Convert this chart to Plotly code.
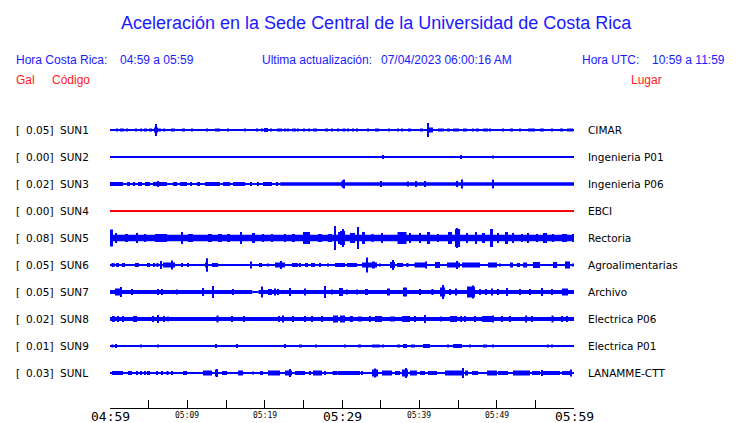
import plotly.graph_objects as go

# ---------------- data ----------------
STATIONS = ["SUN1", "SUN2", "SUN3", "SUN4", "SUN5", "SUN6", "SUN7", "SUN8", "SUN9", "SUNL"]
GAL = ["0.05", "0.00", "0.02", "0.00", "0.08", "0.05", "0.05", "0.02", "0.01", "0.03"]
PLACES = ["CIMAR", "Ingenieria P01", "Ingenieria P06", "EBCI", "Rectoria",
          "Agroalimentarias", "Archivo", "Electrica P06", "Electrica P01", "LANAMME-CTT"]
COLORS = ["#0000ff", "#0000ff", "#0000ff", "#ff0000", "#0000ff",
          "#0000ff", "#0000ff", "#0000ff", "#0000ff", "#0000ff"]

TICK_MIN = [0, 10, 20, 30, 40, 50, 60]
TICK_LABELS = ["04:59", "05:09", "05:19", "05:29", "05:39", "05:49", "05:59"]
TICK_BIG = [True, False, False, True, False, False, True]

# background noise level: (start minute, relative half amplitude)
NOISE = {
    "SUN1": [(0, 0.6)],
    "SUN2": [(0, 0.5)],
    "SUN3": [(0, 0.6), (22.0, 1.8)],
    "SUN4": [(0, 0.5)],
    "SUN5": [(0, 3.2)],
    "SUN6": [(0, 0.6)],
    "SUN7": [(0, 2.1), (18.4, 0.9), (19.2, 2.1)],
    "SUN8": [(0, 2.0)],
    "SUN9": [(0, 0.6)],
    "SUNL": [(0, 0.6)],
}

# bursts: (minute after 04:59, duration in minutes, relative half amplitude)
SUN1 = [(0.87,0.15,1.5),(1.55,0.52,1.5),(2.20,0.15,1.5),(3.36,0.15,1.5),(4.01,0.15,1.5),
        (4.59,0.39,1.5),(5.24,0.39,1.5),(5.91,0.15,6),(5.95,0.52,2.5),(6.40,0.39,1.5),
        (6.98,0.15,1.5),(8.02,0.15,1.5),(8.28,0.15,1.5),(9.50,0.39,1.5),(10.60,0.15,1.5),
        (12.54,0.15,1.5),(13.90,0.65,1.5),(15.26,0.15,1.5),(17.46,0.15,1.5),(19.01,0.15,1.5),
        (19.66,0.15,1.5),(20.17,0.52,2),(20.82,0.15,1.5),(21.92,0.65,1.5),(22.63,0.15,1.5),
        (23.02,0.15,1.5),(23.79,0.52,1.5),(24.31,0.15,1.5),(25.09,0.15,1.5),(25.73,0.15,1.5),
        (26.51,0.52,1.5),(28.00,0.39,1.5),(28.71,0.15,1.5),(29.48,0.15,1.5),(30.26,0.39,1.5),
        (30.78,0.15,1.5),(31.42,0.15,1.5),(31.94,0.15,1.5),(33.36,0.15,1.5),(34.53,0.52,1.5),
        (36.08,0.26,1.5),(37.24,0.15,1.5),(37.76,0.15,1.5),(38.73,0.39,1.5),(40.28,0.39,1.5),
        (41.12,0.15,7),(41.38,0.78,2.5),(42.80,0.78,1.5),(43.77,0.39,1.5),(44.74,0.78,1.5),
        (45.91,0.52,1.5),(46.94,0.15,1.5),(47.52,0.39,1.5),(48.56,0.65,1.5),(49.14,0.15,1.5),
        (50.82,0.15,1.5),(51.92,0.39,1.5),(53.02,0.15,1.5),(54.51,0.91,1.5),(55.87,0.52,1.5),
        (57.16,0.15,1.5),(58.39,0.39,1.5),(59.49,0.78,1.5)]

SUN2 = [(35.34,0.15,2),(45.43,0.15,2),(49.53,0.15,1.5)]

SUN3 = [(0.84,1.68,2),(2.39,0.39,2),(3.10,0.15,2),(3.88,0.52,2),(4.85,0.65,2),
        (6.47,1.81,2),(6.25,0.15,3),(8.41,0.52,2),(9.50,0.91,2),(10.47,0.15,2),
        (11.44,0.39,2),(13.25,1.94,2),(15.07,0.91,2),(16.68,1.55,2),(18.23,0.15,2),
        (19.14,0.15,2),(20.37,1.16,2),(21.60,0.26,2),(30.13,0.39,3.5),(30.26,0.15,4.5),
        (35.00,0.15,3),(38.50,0.15,2.5),(39.53,0.15,3),(40.73,0.15,3),(44.87,0.15,3),
        (45.48,0.15,4.5),(49.57,0.15,4.5)]

SUN4 = []

SUN5 = [(0.19,0.39,8.5),(0.78,0.15,5),(2.13,0.39,4),(3.49,0.15,5),(4.53,0.15,4),
        (6.60,1.55,4),(9.31,0.26,6),(10.41,0.65,4),(12.93,0.52,4),(14.22,0.52,4),
        (15.32,0.39,4),(16.94,0.26,6),(18.56,0.39,5),(19.79,0.15,4),(20.95,0.15,4),
        (22.63,0.15,4),(23.73,0.39,4),(25.41,0.91,6),(27.16,0.52,4),(28.45,0.52,4),
        (29.10,0.15,12),(29.74,0.52,6),(30.13,0.15,9),(30.07,0.65,7),(31.36,0.65,5),
        (32.07,0.15,11),(32.78,0.39,6),(33.95,0.26,4),(35.17,0.15,5),(37.76,1.16,6),
        (38.80,0.15,5),(40.09,0.15,5),(41.19,0.39,6),(42.41,0.15,4),(43.97,0.52,6),
        (44.94,0.65,9),(44.87,0.15,10),(46.17,0.15,5),(47.33,0.26,6),(48.30,0.39,5),
        (49.33,0.39,9),(50.17,0.15,5),(51.27,0.39,6),(52.11,0.15,5),(53.28,0.15,4),
        (54.05,0.15,5),(55.22,0.15,4),(56.25,0.52,5),(57.29,0.15,4),(58.77,0.65,4),
        (59.88,0.15,4)]

SUN6 = [(0.39,0.39,2),(0.97,0.39,2),(1.75,0.39,2),(3.49,0.52,2),(4.98,0.39,2),
        (5.69,0.26,2),(6.14,0.26,2),(6.60,0.15,4),(7.63,1.55,2.5),(8.02,0.15,4.5),
        (9.31,0.15,2),(10.09,0.15,2),(12.48,0.39,2.5),(12.54,0.15,6.7),(13.58,0.78,2),
        (18.23,0.26,3.5),(19.46,0.39,2),(20.43,0.15,1.5),(21.98,1.29,2.5),(22.11,0.15,4),
        (23.92,0.78,2),(24.57,0.15,2),(25.41,0.39,2),(26.25,0.52,2),(27.16,0.15,2),
        (28.19,0.15,1.5),(29.74,1.29,2),(31.29,1.29,2),(33.56,1.94,2.5),(33.23,0.15,7.5),
        (34.07,0.39,3.5),(34.92,0.15,1.5),(36.53,0.65,3),(36.60,0.15,5),(37.50,0.78,2),
        (38.47,0.26,2),(40.15,1.55,2.5),(40.86,0.15,3.5),(42.35,0.65,3),(44.42,1.68,2.5),
        (44.87,0.15,4),(46.68,2.33,2.5),(49.46,1.16,2.5),(50.43,0.15,1.5),(51.92,0.39,2.5),
        (52.82,0.39,2),(53.67,0.52,2.5),(55.15,0.91,3),(57.55,0.52,3),(59.16,0.65,3.5),
        (59.88,0.15,1.5)]

SUN7 = [(1.10,0.91,3.5),(1.42,0.15,5),(2.84,0.15,3),(6.21,0.15,3),(6.72,0.15,3),
        (8.66,0.15,2.5),(12.03,0.15,4),(13.32,0.15,6),(15.91,0.15,3),(19.66,0.15,5.5),
        (20.69,0.52,3),(21.34,0.15,3.5),(21.73,0.15,3),(23.28,0.15,4),(25.22,0.15,3.5),
        (27.80,0.15,6),(28.71,0.15,2.5),(29.87,0.52,4),(30.65,0.15,2.5),(31.94,0.15,2.5),
        (33.17,0.39,3),(36.01,0.39,3.5),(38.15,0.52,4.5),(40.09,0.15,3),(41.70,0.26,3),
        (43.00,0.65,4.5),(43.06,0.15,7),(43.97,0.15,3),(44.74,0.26,3.5),(46.68,1.03,5.5),
        (46.94,0.15,6.5),(47.85,0.15,3),(48.62,0.26,3),(49.40,0.15,3.5),(50.17,0.15,3),
        (51.34,0.15,4),(53.02,0.15,3),(54.31,0.15,3),(55.87,0.15,4),(57.16,0.15,3),
        (58.84,0.78,3.5)]

SUN8 = [(0.45,0.39,3),(1.03,0.15,3),(1.68,0.15,3),(3.23,0.52,3),(5.56,0.15,3),
        (6.21,0.15,4),(6.98,0.15,3),(7.50,0.15,2.5),(13.90,0.26,3.5),(15.78,0.15,3),
        (17.33,0.15,3),(21.85,0.26,3),(22.37,0.15,3.5),(23.66,0.15,3),(25.22,0.15,3),
        (26.12,0.15,3),(27.42,0.15,3),(29.16,0.65,3.5),(30.07,0.65,3.5),(31.23,0.39,3),
        (32.33,0.52,2.5),(33.62,0.15,3),(34.72,0.91,3),(36.53,0.65,2.5),(38.28,1.03,3),
        (39.44,0.15,3),(40.73,0.15,4),(42.80,0.26,2.5),(44.42,0.91,3),(45.39,0.26,3),
        (45.91,0.15,3),(47.20,0.15,3),(48.82,1.42,3),(49.53,0.15,3.5),(50.69,0.15,3),
        (51.73,0.15,3),(53.80,0.26,3.5),(54.57,0.15,3),(57.22,0.26,3.5),(58.45,0.15,3),
        (59.10,0.15,3)]

SUN9 = [(0.32,0.26,1.5),(0.78,0.15,2),(4.01,0.15,1.5),(6.21,0.15,1.5),(13.71,0.15,2),
        (16.42,0.15,2),(22.63,0.26,2),(24.63,0.39,1.5),(26.64,0.15,1.5),(30.39,0.15,1.5),
        (32.26,0.39,1.5),(34.40,1.03,1.5),(35.30,0.15,1.5),(37.31,0.39,1.5),(38.15,0.52,2),
        (39.18,0.52,1.5),(40.93,0.91,2),(43.71,0.15,1.5),(44.94,1.16,2),(46.55,0.15,1.5),
        (48.49,0.52,1.5),(49.53,0.15,1.5),(56.64,0.15,1.5),(57.16,0.15,1.5)]

SUNL = [(0.97,1.42,2),(2.59,0.52,2),(3.49,0.15,2),(4.01,0.26,2),(4.53,0.15,2),
        (4.98,0.39,2),(6.08,0.15,2),(6.72,0.15,2),(7.44,0.26,2),(8.02,0.15,2),
        (9.70,0.52,2),(12.61,1.16,2.5),(13.77,0.39,3.5),(13.84,0.15,4),(14.81,0.65,2),
        (16.88,0.65,2.5),(18.49,0.15,1.5),(19.59,0.39,2),(21.21,1.55,2.5),(23.08,0.91,2.5),
        (23.28,0.15,4),(24.57,1.29,2),(25.86,0.15,2),(26.83,1.16,2.5),(27.80,0.15,2),
        (29.10,0.65,2),(30.91,2.84,2),(32.59,0.15,2),(34.27,0.78,3.5),(34.27,0.15,4.5),
        (35.82,1.29,2.5),(37.18,0.65,2),(38.15,0.78,3.5),(38.28,0.15,5),(39.24,0.91,2.5),
        (40.41,0.65,2),(41.70,1.16,2),(44.42,2.20,2.5),(45.65,0.15,5),(46.10,0.39,2.5),
        (47.20,0.78,2),(49.40,1.29,2.5),(50.82,1.29,2),(53.21,2.20,2.5),(55.09,1.03,2),
        (55.87,0.15,3),(57.09,2.20,2),(58.97,1.03,2),(59.62,0.15,3.5)]

BURSTS = {"SUN1": SUN1, "SUN2": SUN2, "SUN3": SUN3, "SUN4": SUN4, "SUN5": SUN5,
          "SUN6": SUN6, "SUN7": SUN7, "SUN8": SUN8, "SUN9": SUN9, "SUNL": SUNL}

T_END = 60.0
AMP_PER_ROW = 27.0   # relative amplitude units per row spacing

# ---------------- figure ----------------
W, H = 740, 423
ML, MR, MT, MB = 110, 166, 116, 15
PW, PH = W - ML - MR, H - MT - MB
ROW0_PX, ROW_STEP = 130, 27
Y_TOP = (MT - ROW0_PX) / ROW_STEP
Y_BOT = (H - MB - ROW0_PX) / ROW_STEP


def px_x(px):
    return (px - ML) / PW


def px_y(py):
    return (H - MB - py) / PH


fig = go.Figure()
for i, st in enumerate(STATIONS):
    xs, ws, bases, hs = [], [], [], []
    segs = NOISE[st]
    for j, (t0, lv) in enumerate(segs):
        t1 = segs[j + 1][0] if j + 1 < len(segs) else T_END
        a = lv / AMP_PER_ROW
        xs.append((t0 + t1) / 2); ws.append(t1 - t0)
        bases.append(i - a); hs.append(2 * a)
    for (t, d, amp) in BURSTS[st]:
        a = amp / AMP_PER_ROW
        xs.append(t); ws.append(d)
        bases.append(i - a); hs.append(2 * a)
    fig.add_trace(go.Bar(x=xs, y=hs, base=bases, width=ws,
                         marker=dict(color=COLORS[i], line=dict(width=0)),
                         showlegend=False, hoverinfo="skip"))

fig.update_layout(
    width=W, height=H, barmode="overlay",
    margin=dict(l=ML, r=MR, t=MT, b=MB),
    paper_bgcolor="white", plot_bgcolor="white",
    xaxis=dict(range=[0, T_END], showgrid=False, zeroline=False, showline=True,
               linecolor="black", linewidth=1, ticks="inside", ticklen=8,
               tickcolor="black", tickvals=list(range(0, 61, 5)),
               showticklabels=False, fixedrange=True),
    yaxis=dict(range=[Y_BOT, Y_TOP], visible=False, fixedrange=True),
)

ann = []
BLUE = "#1a1aff"
RED = "#ff1a1a"
hdr_font = "Liberation Sans, Arial, sans-serif"
ann.append(dict(text="Aceleración en la Sede Central de la Universidad de Costa Rica",
                x=px_x(376), y=px_y(23), xanchor="center", yanchor="middle",
                font=dict(family=hdr_font, size=18, color=BLUE)))
for txt, xp in [("Hora Costa Rica:", 15), ("04:59 a 05:59", 119),
                ("Ultima actualización:", 261), ("07/04/2023 06:00:16 AM", 380),
                ("Hora UTC:", 581), ("10:59 a 11:59", 651)]:
    ann.append(dict(text=txt, x=px_x(xp), y=px_y(60), xanchor="left", yanchor="middle",
                    font=dict(family=hdr_font, size=12, color=BLUE)))
for txt, xp in [("Gal", 15), ("Código", 51), ("Lugar", 630)]:
    ann.append(dict(text=txt, x=px_x(xp), y=px_y(80), xanchor="left", yanchor="middle",
                    font=dict(family=hdr_font, size=12, color=RED)))

lab_font = dict(family="DejaVu Sans", size=10.5, color="black")
for i, st in enumerate(STATIONS):
    ann.append(dict(text="[", x=px_x(15), y=i, yref="y", xanchor="left", yanchor="middle",
                    font=lab_font))
    ann.append(dict(text=GAL[i] + "]", x=px_x(54), y=i, yref="y", xanchor="right",
                    yanchor="middle", font=lab_font))
    ann.append(dict(text=st, x=px_x(58.5), y=i, yref="y", xanchor="left", yanchor="middle",
                    font=lab_font))
    ann.append(dict(text=PLACES[i], x=px_x(586.5), y=i, yref="y", xanchor="left",
                    yanchor="middle", font=lab_font))

for tv, tl, big in zip(TICK_MIN, TICK_LABELS, TICK_BIG):
    ann.append(dict(text=tl, x=tv, xref="x", y=px_y(416 if big else 415.5),
                    yanchor="middle", xanchor="center",
                    font=dict(family="DejaVu Sans Mono", size=13 if big else 8,
                              color="black")))

for a in ann:
    a.setdefault("xref", "paper")
    a.setdefault("yref", "paper")
    a["showarrow"] = False
    a["borderpad"] = 0
fig.update_layout(annotations=ann)

fig.write_html("out.html", config={"displayModeBar": False},
               post_script="document.body.style.margin='0';document.body.style.padding='0';")
